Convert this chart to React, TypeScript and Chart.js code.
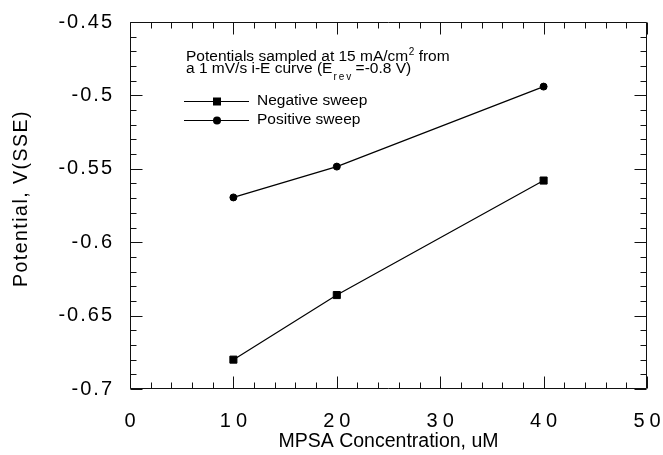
import React, { useEffect, useRef } from 'react';
import { Chart, registerables } from 'chart.js';

Chart.register(...registerables);

// ---- data ----
const concentrations = [10, 20, 40];
const negativeSweep = [-0.680, -0.636, -0.558];
const positiveSweep = [-0.5695, -0.5485, -0.494];
const seriesLabels = ['Negative sweep', 'Positive sweep'];

const xTicks = [0, 10, 20, 30, 40, 50];
const xTickLabels = ['0', '10', '20', '30', '40', '50'];
const yTicks = [-0.7, -0.65, -0.6, -0.55, -0.5, -0.45];
const yTickLabels = ['-0.7', '-0.65', '-0.6', '-0.55', '-0.5', '-0.45'];
const xMinorPerMajor = 5;
const yMinorPerMajor = 5;

const xTitle = 'MPSA Concentration, uM';
const yTitle = 'Potential, V(SSE)';
const noteLine1 = ['Potentials sampled at 15 mA/cm', '2', ' from'];
const noteLine2 = ['a 1 mV/s i-E curve (E', 'rev', ' =-0.8 V)'];

const FONT = "'Liberation Sans', Arial, Helvetica, sans-serif";

function patchScale(scale: any, labelSpacing: number, labelShiftX: number, titleSpacing: number, titleShiftY: number) {
  if (scale.__patched) return;
  scale.__patched = true;
  const origLabels = scale.drawLabels.bind(scale);
  const origTitle = scale.drawTitle.bind(scale);
  scale.drawLabels = (area: any) => {
    const ctx = scale.ctx;
    ctx.save();
    (ctx as any).letterSpacing = labelSpacing + 'px';
    ctx.translate(labelShiftX, 0);
    origLabels(area);
    ctx.restore();
  };
  scale.drawTitle = (...args: any[]) => {
    const ctx = scale.ctx;
    ctx.save();
    (ctx as any).letterSpacing = titleSpacing + 'px';
    ctx.translate(0, titleShiftY);
    origTitle(...args);
    ctx.restore();
  };
}

const spacingPlugin = {
  id: 'spacing',
  beforeDraw(chart: any) {
    patchScale(chart.scales.x, 5, 2.5, 0, 0);
    patchScale(chart.scales.y, 2, 2, 1.5, -7);
  },
};

const frameTicksPlugin = {
  id: 'frameTicks',
  beforeDatasetsDraw(chart: any) {
    const { ctx, chartArea: a, scales } = chart;
    const x = scales.x;
    const y = scales.y;
    const L = Math.round(a.left) + 0.5;
    const R = Math.round(a.right) - 0.5;
    const T = Math.round(a.top) + 0.5;
    const B = Math.round(a.bottom) - 0.5;
    ctx.save();
    ctx.strokeStyle = '#111';
    ctx.lineWidth = 1;
    ctx.beginPath();
    ctx.rect(L, T, R - L, B - T);
    ctx.stroke();
    ctx.beginPath();
    for (let i = 0; i < xTicks.length; i++) {
      const v0 = xTicks[i];
      const v1 = i + 1 < xTicks.length ? xTicks[i + 1] : null;
      const steps = v1 === null ? 1 : xMinorPerMajor;
      for (let k = 0; k < steps; k++) {
        const v = v1 === null ? v0 : v0 + ((v1 - v0) * k) / xMinorPerMajor;
        const len = k === 0 ? 12 : 6;
        const px = Math.round(x.getPixelForValue(v)) + 0.5;
        ctx.moveTo(px, B);
        ctx.lineTo(px, B - len);
        ctx.moveTo(px, T);
        ctx.lineTo(px, T + len);
      }
    }
    for (let i = 0; i < yTicks.length; i++) {
      const v0 = yTicks[i];
      const v1 = i + 1 < yTicks.length ? yTicks[i + 1] : null;
      const steps = v1 === null ? 1 : yMinorPerMajor;
      for (let k = 0; k < steps; k++) {
        const v = v1 === null ? v0 : v0 + ((v1 - v0) * k) / yMinorPerMajor;
        const len = k === 0 ? 12 : 6;
        const py = Math.round(y.getPixelForValue(v)) + 0.5;
        ctx.moveTo(L, py);
        ctx.lineTo(L + len, py);
        ctx.moveTo(R, py);
        ctx.lineTo(R - len, py);
      }
    }
    ctx.stroke();
    ctx.restore();
  },
};

function drawMarker(ctx: CanvasRenderingContext2D, style: string, cx: number, cy: number) {
  ctx.beginPath();
  if (style === 'rect') {
    ctx.rect(cx - 4, cy - 4, 8, 8);
  } else {
    ctx.arc(cx, cy, 4, 0, Math.PI * 2);
  }
  ctx.fill();
}

const notePlugin = {
  id: 'note',
  afterDatasetsDraw(chart: any) {
    const ctx: CanvasRenderingContext2D = chart.ctx;
    ctx.save();
    ctx.fillStyle = '#000';
    ctx.textBaseline = 'alphabetic';
    ctx.textAlign = 'left';
    let xPos = 186;
    const main = `15.5px ${FONT}`;
    const small = `10px ${FONT}`;
    ctx.font = main;
    ctx.fillText(noteLine1[0], xPos, 61);
    xPos += ctx.measureText(noteLine1[0]).width + 0.5;
    ctx.font = small;
    ctx.fillText(noteLine1[1], xPos, 55);
    xPos += ctx.measureText(noteLine1[1]).width;
    ctx.font = main;
    ctx.fillText(noteLine1[2], xPos, 61);
    xPos = 186;
    ctx.fillText(noteLine2[0], xPos, 73);
    xPos += ctx.measureText(noteLine2[0]).width + 1;
    ctx.font = small;
    (ctx as any).letterSpacing = '2px';
    ctx.fillText(noteLine2[1], xPos, 80);
    xPos += ctx.measureText(noteLine2[1]).width;
    (ctx as any).letterSpacing = '0px';
    ctx.font = main;
    ctx.fillText(noteLine2[2], xPos - 2, 73);

    const ys = [101, 120];
    chart.data.datasets.forEach((ds: any, i: number) => {
      const yy = ys[i];
      ctx.strokeStyle = ds.borderColor;
      ctx.lineWidth = 1;
      ctx.beginPath();
      ctx.moveTo(184, yy + 0.5);
      ctx.lineTo(249, yy + 0.5);
      ctx.stroke();
      ctx.fillStyle = ds.pointBackgroundColor;
      drawMarker(ctx, ds.pointStyle, 217, yy + 0.5);
      ctx.fillStyle = '#000';
      ctx.font = main;
      ctx.textBaseline = 'middle';
      ctx.fillText(ds.label, 257, yy);
    });
    ctx.restore();
  },
};

export default function App() {
  const ref = useRef<HTMLCanvasElement | null>(null);
  useEffect(() => {
    if (!ref.current) return;
    const toPts = (vals: number[]) => concentrations.map((c, i) => ({ x: c, y: vals[i] }));
    const chart = new Chart(ref.current, {
      type: 'line',
      data: {
        datasets: [
          {
            label: seriesLabels[0],
            data: toPts(negativeSweep),
            borderColor: '#000',
            borderWidth: 1.2,
            pointStyle: 'rect',
            pointRadius: 5,
            pointBorderWidth: 1,
            pointBackgroundColor: '#000',
            pointBorderColor: '#000',
            fill: false,
            tension: 0,
          },
          {
            label: seriesLabels[1],
            data: toPts(positiveSweep),
            borderColor: '#000',
            borderWidth: 1.2,
            pointStyle: 'circle',
            pointRadius: 3.5,
            pointBorderWidth: 1,
            pointBackgroundColor: '#000',
            pointBorderColor: '#000',
            fill: false,
            tension: 0,
          },
        ],
      },
      options: {
        animation: false,
        responsive: false,
        devicePixelRatio: 1,
        layout: { padding: { top: 22, right: 16, left: 0, bottom: 0 } },
        plugins: { legend: { display: false }, tooltip: { enabled: false } },
        scales: {
          x: {
            type: 'linear',
            min: 0,
            max: 50,
            afterBuildTicks: (s: any) => {
              s.ticks = xTicks.map((v) => ({ value: v }));
            },
            afterFit: (s: any) => {
              s.height = 66;
              s.paddingLeft = 0;
              s.paddingRight = 0;
            },
            grid: { display: false, drawTicks: false },
            border: { display: false },
            ticks: {
              padding: 20,
              color: '#000',
              maxRotation: 0,
              autoSkip: false,
              font: { family: FONT, size: 20 },
              callback: (v: any) => xTickLabels[xTicks.indexOf(v)] ?? '',
            },
            title: {
              display: true,
              text: xTitle,
              color: '#000',
              font: { family: FONT, size: 19.5 },
              padding: { top: 0, bottom: 2 },
            },
          },
          y: {
            type: 'linear',
            min: -0.7,
            max: -0.45,
            afterBuildTicks: (s: any) => {
              s.ticks = yTicks.map((v) => ({ value: v }));
            },
            afterFit: (s: any) => {
              s.width = 130;
              s.paddingTop = 0;
              s.paddingBottom = 0;
            },
            grid: { display: false, drawTicks: false },
            border: { display: false },
            ticks: {
              padding: 18,
              color: '#000',
              autoSkip: false,
              font: { family: FONT, size: 20 },
              callback: (v: any) => yTickLabels[yTicks.indexOf(v)] ?? '',
            },
            title: {
              display: true,
              text: yTitle,
              color: '#000',
              font: { family: FONT, size: 19.5 },
              padding: { top: 10, bottom: 0 },
            },
          },
        },
      },
      plugins: [spacingPlugin, frameTicksPlugin, notePlugin],
    } as any);
    return () => chart.destroy();
  }, []);
  return (
    <div style={{ position: 'fixed', left: 0, top: 0, width: 663, height: 455, background: '#fff' }}>
      <canvas ref={ref} width={663} height={455} style={{ display: 'block', width: 663, height: 455 }} />
    </div>
  );
}
